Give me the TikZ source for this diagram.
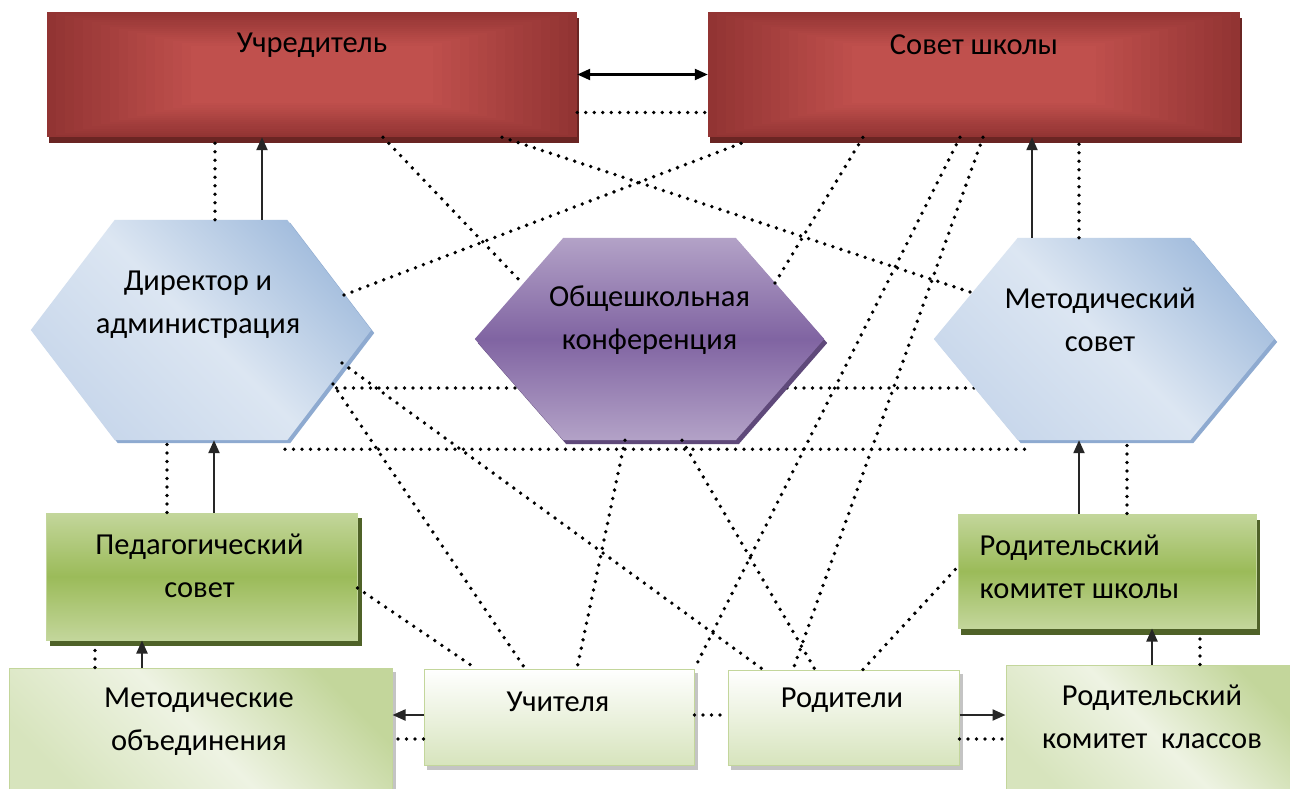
\documentclass[tikz,border=0pt]{standalone}
\usepackage{fontspec}
\setmainfont{Carlito}
\usetikzlibrary{arrows.meta,calc}
\pgfdeclarelayer{back}
\pgfdeclarelayer{lbg}
\pgfdeclarelayer{shp}
\pgfsetlayers{back,lbg,shp,main}
\definecolor{rdk}{HTML}{923433}
\definecolor{rmd}{HTML}{C0504D}
\definecolor{rsh}{HTML}{6A2523}
\definecolor{bdk}{HTML}{A3BDDD}
\definecolor{blt}{HTML}{DCE6F2}
\definecolor{bmd}{HTML}{C8D7EB}
\definecolor{bsh}{HTML}{8EAAD0}
\definecolor{plt}{HTML}{B3A2C7}
\definecolor{pmd}{HTML}{8064A2}
\definecolor{psh}{HTML}{5F497A}
\definecolor{glt}{HTML}{C3D69B}
\definecolor{gmd}{HTML}{9BBB59}
\definecolor{gsh}{HTML}{4F6228}
\definecolor{lgr}{HTML}{D7E4BD}
\definecolor{lgl}{HTML}{EEF3E3}
\definecolor{lsh}{HTML}{C4C4C4}
\newcommand\myhex[4]{([xshift=#3,yshift=#4]#1.west) -- ([xshift=#2+#3,yshift=#4]#1.north west) -- ([xshift=-#2+#3,yshift=#4]#1.north east) -- ([xshift=#3,yshift=#4]#1.east) -- ([xshift=-#2+#3,yshift=#4]#1.south east) -- ([xshift=#2+#3,yshift=#4]#1.south west) -- cycle}
\tikzset{
  txt/.style={font=\fontsize{30.5}{43}\selectfont, text=black, align=center, inner sep=0pt},
  dline/.style={line width=3.8pt, line cap=round, dash pattern=on 0pt off 8.5pt, black},
  sline/.style={line width=2.2pt, black!85, -{Triangle[length=13pt,width=11pt]}},
  dblline/.style={line width=2.2pt, black, {Triangle[length=13pt,width=11pt]}-{Triangle[length=13pt,width=11pt]}},
  redbox/.style={rectangle, inner sep=0pt, fill=rdk,
    path picture={
      \foreach \i in {1,...,16}{
        \pgfmathsetmacro\pp{100*\i/16}
        \fill[rmd!\pp!rdk] ([xshift=\i*9pt, yshift=\i*2.1pt]path picture bounding box.south west)
          rectangle ([xshift=-\i*9pt, yshift=-\i*2.1pt]path picture bounding box.north east);
      }
    }},
  hexnode/.style={rectangle, inner sep=0pt, draw=none},
  greenbox/.style={rectangle, inner sep=0pt, draw=glt, line width=1pt, top color=glt, bottom color=glt, middle color=gmd},
  lightbox/.style={rectangle, inner sep=0pt, draw=glt, line width=1pt, top color=glt, bottom color=lgr, middle color=lgl, shading angle=-45},
  lightbox2/.style={rectangle, inner sep=0pt, draw=glt, line width=1pt, top color=white, bottom color=lgr},
}
\begin{document}
\begin{tikzpicture}[x=1pt,y=-1pt]
\useasboundingbox (0,0) rectangle (1290,789);
\begin{pgfonlayer}{back}
\fill[white] (0,0) rectangle (1290,789);
\end{pgfonlayer}

% nodes
\node[redbox, minimum width=530pt, minimum height=125pt, label={[txt,yshift=29.5pt]center:Учредитель}] (ucr) at (312,74.5) {};
\node[redbox, minimum width=532pt, minimum height=125pt, label={[txt,yshift=29.5pt]center:Совет школы}] (sov) at (974,74.5) {};
\node[hexnode, minimum width=340pt, minimum height=220pt, label={[txt,xshift=-3pt,yshift=25pt]center:{Директор и\\администрация}}] (dir) at (201,330) {};
\node[hexnode, minimum width=349pt, minimum height=202pt, label={[txt,yshift=19pt]center:{Общешкольная\\конференция}}] (obs) at (649.5,339) {};
\node[hexnode, minimum width=340pt, minimum height=202pt, label={[txt,xshift=-4pt,yshift=19pt]center:{Методический\\совет}}] (met) at (1104,339) {};
\node[greenbox, minimum width=311pt, minimum height=127pt, label={[txt,xshift=-2pt,yshift=10.5pt]center:{Педагогический\\совет}}] (ped) at (201.5,576.5) {};
\node[greenbox, minimum width=298pt, minimum height=114pt, label={[txt,align=left,anchor=west,xshift=22pt,yshift=4.5pt]west:{Родительский\\комитет школы}}] (rks) at (1107,571) {};
\node[lightbox, minimum width=383pt, minimum height=132pt, label={[txt,xshift=-1.5pt,yshift=12.5pt]center:{Методические\\объединения}}] (mob) at (200.5,734) {};
\node[lightbox2, minimum width=270pt, minimum height=96pt, label={[txt,xshift=-1pt,yshift=15pt]center:Учителя}] (uch) at (559,717) {};
\node[lightbox2, minimum width=231pt, minimum height=95pt, label={[txt,xshift=-1.5pt,yshift=17.5pt]center:Родители}] (rod) at (843.5,717.5) {};
\node[lightbox, minimum width=294pt, minimum height=135pt, label={[txt,xshift=-1pt,yshift=16pt]center:{Родительский\\комитет\ \ классов}}] (rkk) at (1153,732.5) {};

% shapes and shadows
\begin{pgfonlayer}{shp}
\fill[rsh] ([xshift=2pt,yshift=-6pt]ucr.south west) rectangle ([xshift=2pt,yshift=-6pt]ucr.north east);
\fill[rsh] ([xshift=2pt,yshift=-6pt]sov.south west) rectangle ([xshift=2pt,yshift=-6pt]sov.north east);
\fill[gsh] ([xshift=4pt,yshift=-5pt]ped.south west) rectangle ([xshift=4pt,yshift=-5pt]ped.north east);
\fill[gsh] ([xshift=3pt,yshift=-6pt]rks.south west) rectangle ([xshift=3pt,yshift=-6pt]rks.north east);
\fill[lsh] ([xshift=3pt,yshift=-4pt]mob.south west) rectangle ([xshift=3pt,yshift=-4pt]mob.north east);
\fill[lsh] ([xshift=3pt,yshift=-4pt]uch.south west) rectangle ([xshift=3pt,yshift=-4pt]uch.north east);
\fill[lsh] ([xshift=3pt,yshift=-4pt]rod.south west) rectangle ([xshift=3pt,yshift=-4pt]rod.north east);
\fill[lsh] ([xshift=3pt,yshift=-4pt]rkk.south west) rectangle ([xshift=3pt,yshift=-4pt]rkk.north east);
\fill[bsh] \myhex{dir}{84pt}{3pt}{-3pt};
\shade[top color=bdk, bottom color=bmd, middle color=blt, shading angle=-45] \myhex{dir}{84pt}{0pt}{0pt};
\fill[bsh] \myhex{met}{84pt}{3pt}{-3pt};
\shade[top color=bdk, bottom color=bmd, middle color=blt, shading angle=-45] \myhex{met}{84pt}{0pt}{0pt};
\fill[psh] \myhex{obs}{88.5pt}{3pt}{-4pt};
\shade[top color=plt, bottom color=plt, middle color=pmd] \myhex{obs}{88.5pt}{0pt}{0pt};
\end{pgfonlayer}

% line behind the conference hexagon
\begin{pgfonlayer}{lbg}
\draw[dline] ([xshift=127pt,yshift=-58pt]dir.center) -- ([xshift=-129pt,yshift=-49pt]met.center);
\end{pgfonlayer}

% solid connectors with dotted companions
\draw[dblline] (ucr.east) -- (sov.west);
\draw[dline] ([yshift=-38pt]ucr.east) -- ([yshift=-38pt]sov.west);
\draw[sline] ([xshift=61pt]dir.north) -- ([xshift=-50pt]ucr.south);
\draw[dline] ([xshift=14pt]dir.north) -- ([xshift=-97pt]ucr.south);
\draw[sline] ([xshift=-72pt]met.north) -- ([xshift=58pt]sov.south);
\draw[dline] ([xshift=-25pt]met.north) -- ([xshift=105pt]sov.south);
\draw[sline] ([xshift=12.5pt]ped.north) -- ([xshift=13pt]dir.south);
\draw[dline] ([xshift=-34.5pt]ped.north) -- ([xshift=-34pt]dir.south);
\draw[sline] ([xshift=-58.5pt]mob.north) -- ([xshift=-59.5pt]ped.south);
\draw[dline] ([xshift=-105.5pt]mob.north) -- ([xshift=-106.5pt,yshift=-4pt]ped.south);
\draw[sline] ([yshift=2pt]uch.west) -- ([yshift=19pt]mob.east);
\draw[dline] ([yshift=-22pt]uch.west) -- ([yshift=-5pt]mob.east);
\draw[dline] ([yshift=2pt]uch.east) -- ([yshift=2.5pt]rod.west);
\draw[sline] ([yshift=2.5pt]rod.east) -- ([yshift=17.5pt]rkk.west);
\draw[dline] ([yshift=-21.5pt]rod.east) -- ([yshift=-6.5pt]rkk.west);
\draw[sline] ([xshift=-1pt]rkk.north) -- ([xshift=45pt]rks.south);
\draw[dline] ([xshift=47pt]rkk.north) -- ([xshift=93pt,yshift=-5pt]rks.south);
\draw[sline] ([xshift=-28pt]rks.north) -- ([xshift=-25pt]met.south);
\draw[dline] ([xshift=20pt]rks.north) -- ([xshift=23pt]met.south);

% dotted diagonal connectors
\draw[dline] ([xshift=71pt]ucr.south) -- ([xshift=-127.5pt,yshift=56pt]obs.center);
\draw[dline] ([xshift=190pt]ucr.south) -- ([xshift=-131pt,yshift=46pt]met.center);
\draw[dline] ([xshift=143pt,yshift=35pt]dir.center) -- ([xshift=-230pt,yshift=-5pt]sov.south);
\draw[dline] ([xshift=125.5pt,yshift=56pt]obs.center) -- ([xshift=-111pt]sov.south);
\draw[dline] ([xshift=-14pt]sov.south) -- (uch.north east);
\draw[dline] ([xshift=9pt]sov.south) -- ([xshift=-50.5pt]rod.north);
\draw[dline] ([xshift=84pt,yshift=-9pt]dir.south) -- ([xshift=-76pt,yshift=-9pt]met.south);
\draw[dline] ([xshift=141pt,yshift=-33pt]dir.center) -- ([xshift=-80.5pt]rod.north);
\draw[dline] ([xshift=132pt,yshift=-54pt]dir.center) -- ([xshift=-34pt]uch.north);
\draw[dline] ([xshift=-24.5pt]obs.south) -- ([xshift=18pt]uch.north);
\draw[dline] ([xshift=32.5pt]obs.south) -- ([xshift=-28.5pt]rod.north);
\draw[dline] ([yshift=-11.5pt]ped.east) -- ([xshift=-83pt]uch.north);
\draw[dline] ([xshift=19.5pt]rod.north) -- ([yshift=4pt]rks.west);
\end{tikzpicture}
\end{document}
